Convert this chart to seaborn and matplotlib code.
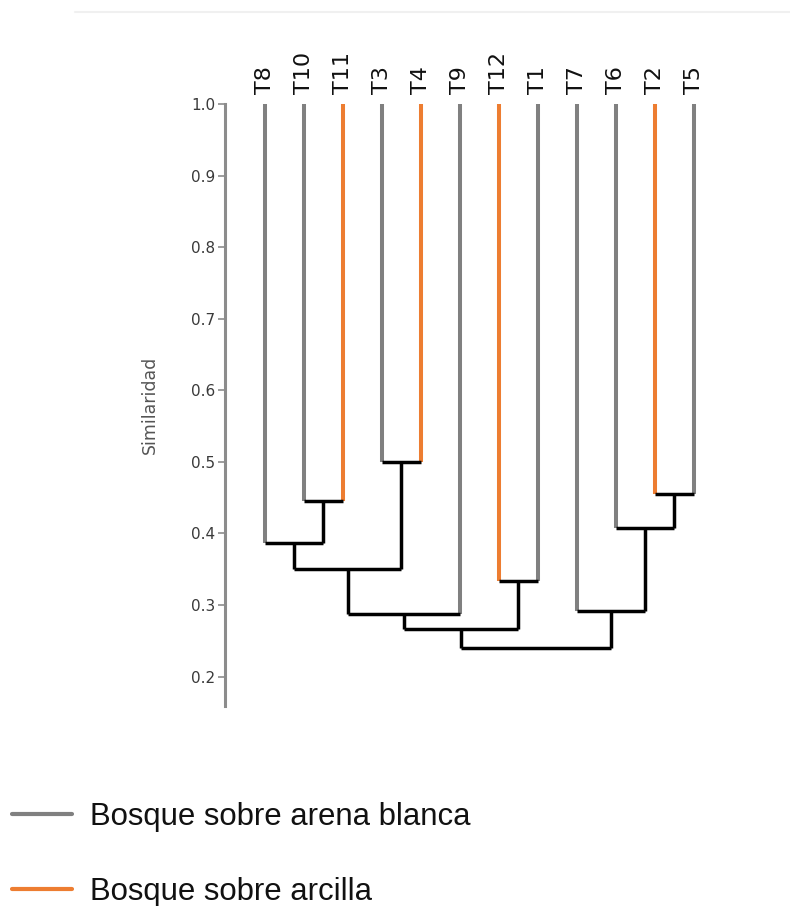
import numpy as np
import pandas as pd
import matplotlib
matplotlib.use("Agg")
import matplotlib.pyplot as plt
from matplotlib.lines import Line2D
import seaborn as sns

# ---- data ----
leaves = ["T8", "T10", "T11", "T3", "T4", "T9", "T12", "T1", "T7", "T6", "T2", "T5"]
soil = ["arena", "arena", "arcilla", "arena", "arcilla", "arena",
        "arcilla", "arena", "arena", "arena", "arcilla", "arena"]
# merges: node ids 0..11 are leaves, 12.. are clusters (in order)
merge_a = [1, 0, 3, 13, 15, 6, 16, 10, 9, 8, 18]
merge_b = [2, 12, 4, 14, 5, 7, 17, 11, 19, 20, 21]
merge_h = [0.446, 0.387, 0.500, 0.351, 0.288, 0.333, 0.266, 0.455, 0.407, 0.292, 0.240]
yticks = [0.2, 0.3, 0.4, 0.5, 0.6, 0.7, 0.8, 0.9, 1.0]
legend_labels = ["Bosque sobre arena blanca", "Bosque sobre arcilla"]

colors = {"arena": "#808080", "arcilla": "#ED7D31", "link": "#000000"}

# ---- build dendrogram segments ----
n = len(leaves)
xpos = {i: float(i) for i in range(n)}
ypos = {i: 1.0 for i in range(n)}
leaf_rows, link_rows = [], []
seg = 0
for k, (a, b, h) in enumerate(zip(merge_a, merge_b, merge_h)):
    node = n + k
    for c in (a, b):
        if c < n:
            leaf_rows += [dict(seg=seg, x=xpos[c], y=ypos[c], kind=soil[c]),
                          dict(seg=seg, x=xpos[c], y=h, kind=soil[c])]
        else:
            link_rows += [dict(seg=seg, x=xpos[c], y=ypos[c], kind="link"),
                          dict(seg=seg, x=xpos[c], y=h, kind="link")]
        seg += 1
    link_rows += [dict(seg=seg, x=xpos[a], y=h, kind="link"),
                  dict(seg=seg, x=xpos[b], y=h, kind="link")]
    seg += 1
    xpos[node] = (xpos[a] + xpos[b]) / 2
    ypos[node] = h

leaf_df = pd.DataFrame(leaf_rows)
link_df = pd.DataFrame(link_rows)

# ---- figure ----
sns.set_style("white")
plt.rcParams["font.family"] = ["DejaVu Sans"]
fig = plt.figure(figsize=(7.9, 9.06), dpi=100)
ax = fig.add_axes([225 / 790, 1 - 706 / 906, (735 - 225) / 790, (706 - 104) / 906])

sns.lineplot(data=leaf_df, x="x", y="y", units="seg", hue="kind",
             palette=colors, estimator=None, sort=False, legend=False,
             linewidth=2.9, ax=ax)
sns.lineplot(data=link_df, x="x", y="y", units="seg", hue="kind",
             palette=colors, estimator=None, sort=False, legend=False,
             linewidth=2.5, ax=ax)
for ln in ax.lines:
    ln.set_clip_on(False)
    ln.set_solid_capstyle("butt")

ax.set_xlim(-1.02, 12.06)
ax.set_ylim(0.159, 1.0)
ax.set_xticks([])
ax.set_yticks(yticks)
ax.set_yticklabels([f"{v:.1f}" for v in yticks])
for s in ["top", "right", "bottom"]:
    ax.spines[s].set_visible(False)
ax.spines["left"].set_color("#8c8c8c")
ax.spines["left"].set_linewidth(2.2)
ax.tick_params(axis="y", direction="out", length=5, width=1.2, color="#8c8c8c",
               labelsize=11, labelcolor="#3a3a3a", pad=2, left=True)
ax.set_xlabel("")
ax.set_ylabel("Similaridad", fontsize=12.5, color="#555555", labelpad=23)

# leaf labels above the tree
for i, name in enumerate(leaves):
    ax.text(xpos[i], 1.0 + 0.014, name, rotation=90, ha="center", va="bottom",
            fontsize=16, color="#111111", transform=ax.transData)

# legend
handles = [Line2D([], [], color=colors["arena"], lw=3),
           Line2D([], [], color=colors["arcilla"], lw=3)]
fig.legend(handles, legend_labels, loc="upper left",
           bbox_to_anchor=(12 / 790, 1 - 802 / 906), frameon=False,
           prop={"family": "Liberation Sans", "size": 22.4},
           labelcolor="#111111",
           handlelength=1.92, handletextpad=0.58, labelspacing=1.45,
           borderpad=0, borderaxespad=0)

# faint top rule
fig.add_artist(Line2D([75 / 790, 1.0], [1 - 12 / 906, 1 - 12 / 906],
                      color="#f0f0f0", lw=1.5, transform=fig.transFigure))

fig.savefig("out.png", dpi=100)
